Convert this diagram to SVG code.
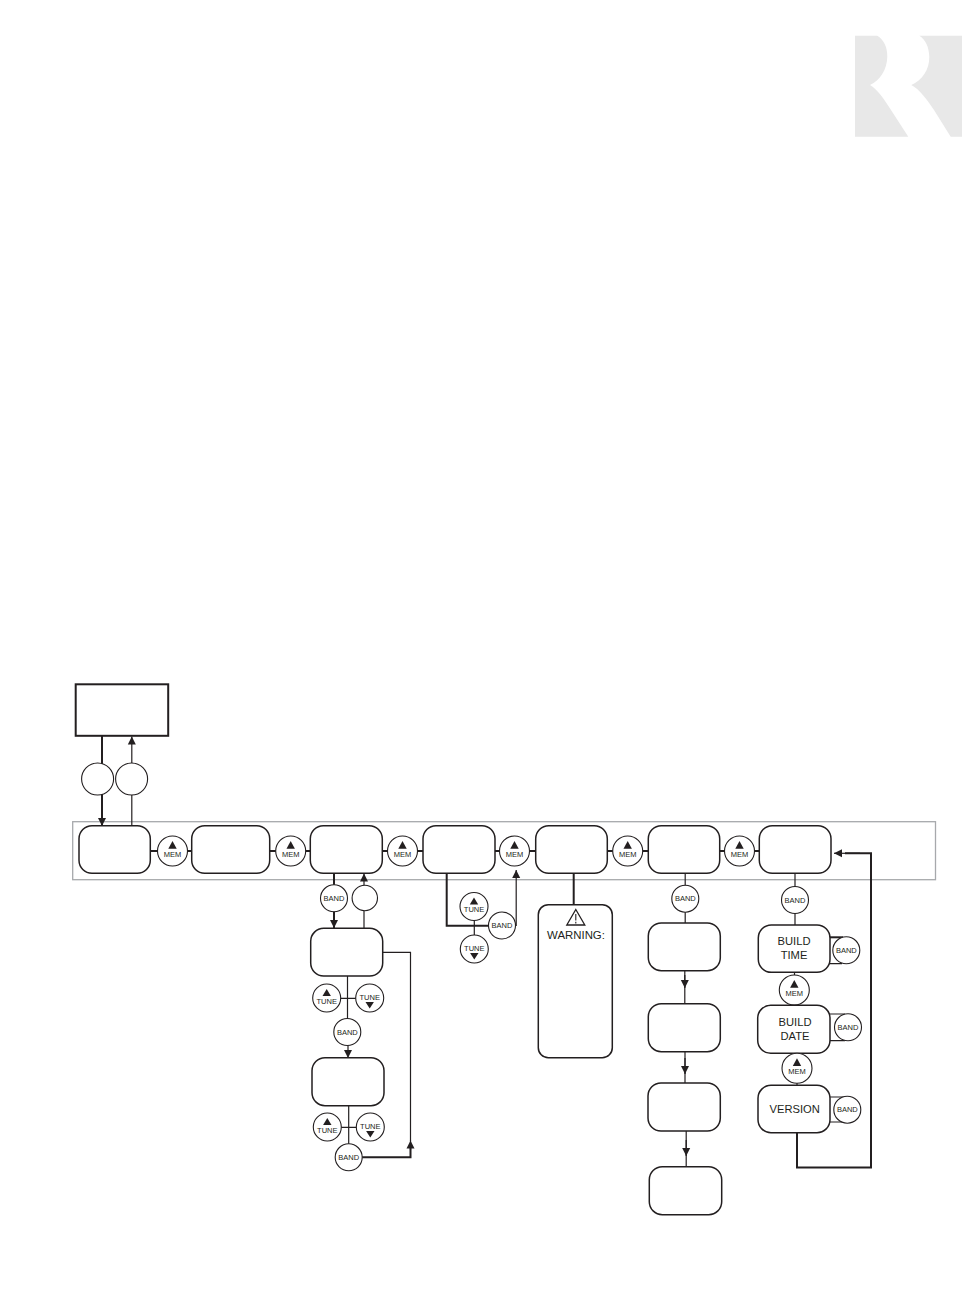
<svg xmlns="http://www.w3.org/2000/svg" width="972" height="1296" viewBox="0 0 972 1296">
<style>
.box{fill:#fff;stroke:#231f20;stroke-width:1.5}
.c{fill:#fff;stroke:#231f20;stroke-width:1.1}
.l{fill:none;stroke:#231f20;stroke-width:1.2}
.t{fill:none;stroke:#231f20;stroke-width:2}
.a{marker-end:url(#arr)}
.tri{fill:#231f20}
text{font-family:"Liberation Sans",Arial,sans-serif;fill:#231f20;text-anchor:middle}
.k{font-size:7.5px}
.n{font-size:11.2px}
</style>
<defs>
<marker id="arr" markerUnits="userSpaceOnUse" markerWidth="10" markerHeight="10" viewBox="0 0 10 10" refX="9" refY="5" orient="auto"><path d="M1 1 L9 5 L1 9 Z" fill="#231f20"/></marker>
<g id="mem"><circle class="c" r="15"/><path class="tri" d="M0 -10 L4.2 -2.3 L-4.2 -2.3 Z"/><text class="k" y="5.7">MEM</text></g>
<g id="band"><circle class="c" r="13.5"/><text class="k" y="2.7">BAND</text></g>
<g id="tuneup"><circle class="c" r="14"/><path class="tri" d="M0 -9 L4.2 -2 L-4.2 -2 Z"/><text class="k" y="5.5">TUNE</text></g>
<g id="tunedown"><circle class="c" r="14"/><path class="tri" d="M0 10.5 L4.2 4 L-4.2 4 Z"/><text class="k" y="1.5">TUNE</text></g>
</defs>
<g id="logo" fill="#e8e8e8">
<path d="M855 35.7 L877.3 35.7 C883.5 39.5 887.5 47 887.3 56.7 C887 70 880 80 870 85 C878 90 884 99 891 110 L908.3 136.7 L855 136.7 Z"/>
<path d="M919.3 35.7 L962 35.7 L962 136.7 L950.7 136.7 L934 110 C926 98 920 90 911.3 85 C922 80 929.5 70 929.3 56.7 C929 47 925.5 39.5 919.3 35.7 Z"/>
</g>
<rect id="strip" x="72.7" y="821.7" width="862.8" height="58" fill="none" stroke="#a7a9ac" stroke-width="1.3"/>
<g id="connectors">
<path class="t" d="M102 735 V825.5"/><path class="t a" d="M102 790 V826"/>
<path class="l a" d="M131.8 826 V736.5"/>
<path class="t" d="M150 851 H191.7 M269.7 851 H310.3 M382.3 851 H423 M495 851 H535.7 M607.3 851 H648.3 M719.7 851 H759.3"/>
<path class="t" d="M334 873 V912"/><path class="t a" d="M334 905 V928"/>
<path class="l a" d="M364 928 V873.5"/>
<path class="l a" d="M382.7 952.3 H410.5 V1141" style="marker-end:none"/>
<path class="l a" d="M410.5 1150 V1140.5"/>
<path class="t" d="M362 1157.3 H410.5 V1147"/>
<path class="l" d="M347.5 976 V1020 M340 998.3 H356"/>
<path class="l a" d="M348 1045 V1058"/>
<path class="l" d="M348.7 1105.7 V1145 M341 1127.3 H357"/>
<path class="t" d="M446.7 873 V925.7 H489"/>
<path class="l" d="M474.3 920 V936"/>
<path class="l a" d="M515.5 925.5 H516.2 V870"/>
<path class="t" d="M573.7 873 V905"/>
<path class="l" d="M685.2 873 V923"/>
<path class="l" d="M684.8 971 V1004 M685 1052 V1083 M686.2 1131 V1167"/>
<path class="l a" d="M684.8 975 V988"/><path class="l a" d="M685 1058 V1074"/><path class="l a" d="M686.2 1140 V1156"/>
<path class="l" d="M795 873 V925 M794.5 972 V1006 M797 1053 V1086"/>
<path class="l" d="M828 963.7 H842 M828 1014 H845 M828 1040.7 H845 M828 1097 H845 M828 1122 H845"/>
<path class="t" d="M828 937.3 H843"/>
<path class="t" d="M797 1133 V1167.5 H871 V853.3 H845"/>
<path class="l a" d="M860 853.3 H834"/>
</g>
<g id="top-box"><rect x="75.7" y="684.3" width="92.5" height="51.5" fill="#fff" stroke="#231f20" stroke-width="2"/></g>
<g id="key-a"><circle class="c" cx="97.6" cy="779" r="16"/></g>
<g id="key-b"><circle class="c" cx="131.6" cy="779" r="16"/></g>
<g id="box-1"><rect class="box" x="79" y="825.7" width="71.3" height="47.6" rx="13"/></g>
<g id="box-2"><rect class="box" x="191.7" y="825.7" width="78" height="47.6" rx="13"/></g>
<g id="box-3"><rect class="box" x="310.3" y="825.7" width="72" height="47.6" rx="13"/></g>
<g id="box-4"><rect class="box" x="423" y="825.7" width="72" height="47.6" rx="13"/></g>
<g id="box-5"><rect class="box" x="535.7" y="825.7" width="71.6" height="47.6" rx="13"/></g>
<g id="box-6"><rect class="box" x="648.3" y="825.7" width="71.4" height="47.6" rx="13"/></g>
<g id="box-7"><rect class="box" x="759.3" y="825.7" width="71.7" height="47.6" rx="13"/></g>
<g id="mem-1"><use href="#mem" x="172.5" y="851"/></g>
<g id="mem-2"><use href="#mem" x="290.7" y="851"/></g>
<g id="mem-3"><use href="#mem" x="402.5" y="851"/></g>
<g id="mem-4"><use href="#mem" x="514.5" y="851"/></g>
<g id="mem-5"><use href="#mem" x="627.7" y="851"/></g>
<g id="mem-6"><use href="#mem" x="739.5" y="851"/></g>
<g id="band-3"><use href="#band" x="334" y="898.3"/></g>
<g id="key-c"><circle class="c" cx="364.8" cy="898" r="12.7"/></g>
<g id="box-3a"><rect class="box" x="310.7" y="928.3" width="72" height="47.7" rx="13"/></g>
<g id="tune-3a-up"><use href="#tuneup" x="326.7" y="998"/></g>
<g id="tune-3a-down"><use href="#tunedown" x="369.7" y="998"/></g>
<g id="band-3a"><use href="#band" x="347.3" y="1032"/></g>
<g id="box-3b"><rect class="box" x="312" y="1057.7" width="72" height="48" rx="13"/></g>
<g id="tune-3b-up"><use href="#tuneup" x="327.3" y="1127"/></g>
<g id="tune-3b-down"><use href="#tunedown" x="370.3" y="1127"/></g>
<g id="band-3b"><use href="#band" x="348.7" y="1157.3"/></g>
<g id="tune-4-up"><use href="#tuneup" x="474" y="906.5"/></g>
<g id="tune-4-down"><use href="#tunedown" x="474.3" y="949"/></g>
<g id="band-4"><use href="#band" x="502" y="925.5"/></g>
<g id="warning">
<rect class="box" x="538.3" y="904.7" width="74" height="153" rx="10"/>
<path d="M575.8 909.5 L584.8 925 H566.8 Z" fill="#fff" stroke="#231f20" stroke-width="1.3"/>
<path d="M575.8 914 V920.5 M575.8 921.8 V923.6" stroke="#231f20" stroke-width="1.1" fill="none"/>
<text x="576" y="939" font-size="11.4">WARNING:</text>
</g>
<g id="band-6"><use href="#band" x="685.3" y="898.7"/></g>
<g id="box-6a"><rect class="box" x="648.3" y="923" width="72" height="47.7" rx="13"/></g>
<g id="box-6b"><rect class="box" x="648.3" y="1003.7" width="72" height="48" rx="13"/></g>
<g id="box-6c"><rect class="box" x="648" y="1083" width="72.3" height="48" rx="13"/></g>
<g id="box-6d"><rect class="box" x="649.3" y="1166.7" width="72.4" height="48" rx="13"/></g>
<g id="band-7"><use href="#band" x="795" y="900"/></g>
<g id="build-time"><rect class="box" x="758.3" y="925" width="71.7" height="47.3" rx="13"/><text class="n" x="794" y="945">BUILD</text><text class="n" x="794" y="959">TIME</text></g>
<g id="band-time"><use href="#band" x="846.3" y="950.3"/></g>
<g id="mem-time"><use href="#mem" x="794.3" y="990"/></g>
<g id="build-date"><rect class="box" x="757.7" y="1005.3" width="72.3" height="48" rx="13"/><text class="n" x="795" y="1026">BUILD</text><text class="n" x="795" y="1040">DATE</text></g>
<g id="band-date"><use href="#band" x="848" y="1027.3"/></g>
<g id="mem-date"><use href="#mem" x="797" y="1068.3"/></g>
<g id="version"><rect class="box" x="758" y="1085.3" width="72" height="47.4" rx="13"/><text class="n" x="794.7" y="1112.7">VERSION</text></g>
<g id="band-version"><use href="#band" x="847.3" y="1109.7"/></g>
</svg>
